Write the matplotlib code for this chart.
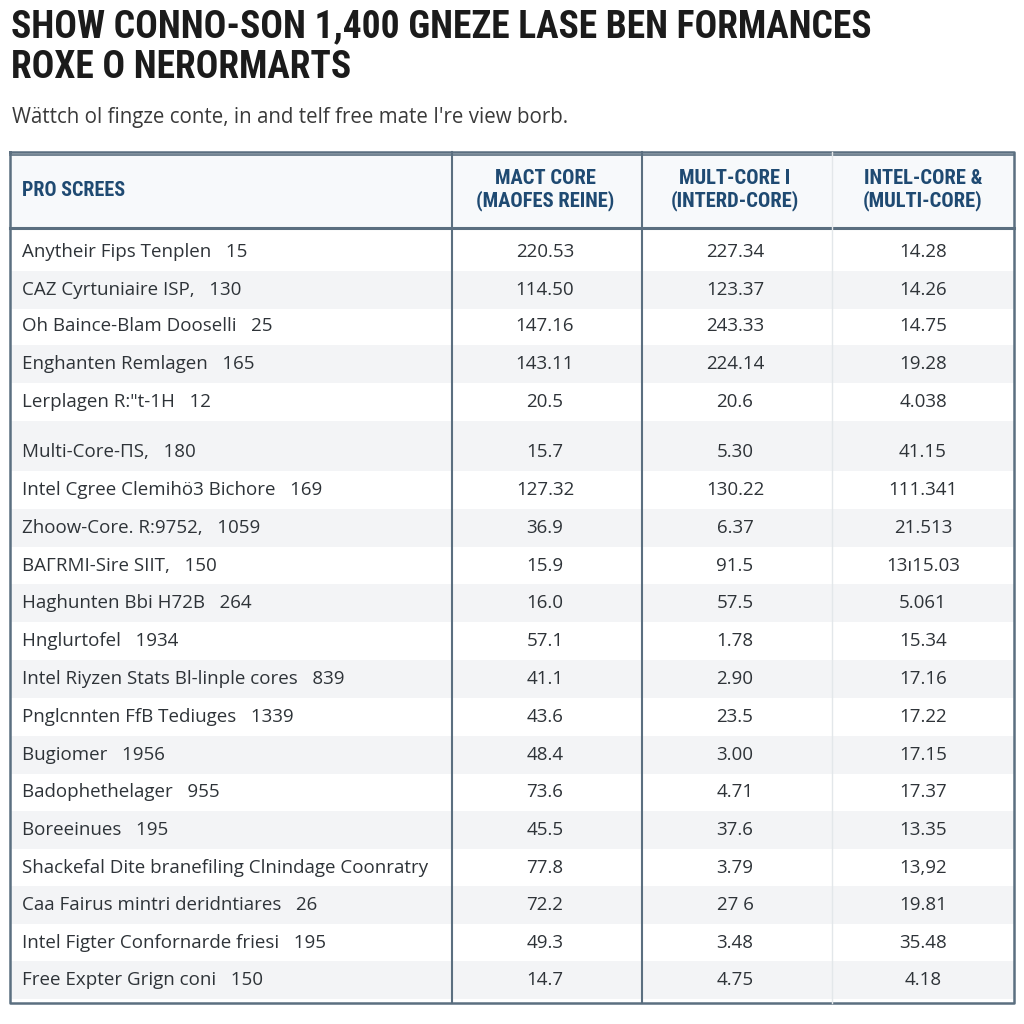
import matplotlib.pyplot as plt
from matplotlib.patches import Rectangle

# Table content
title_lines = ["SHOW CONNO-SON 1,400 GNEZE LASE BEN FORMANCES", "ROXE O NERORMARTS"]
subtitle = "Wättch ol fingze conte, in and telf free mate I're view borb."
first_header = "PRO SCREES"
col_headers = ["MACT CORE\n(MAOFES REINE)", "MULT-CORE I\n(INTERD-CORE)", "INTEL-CORE &\n(MULTI-CORE)"]

names = [
    "Anytheir Fips Tenplen", "CAZ Cyrtuniaire ISP,", "Oh Baince-Blam Dooselli",
    "Enghanten Remlagen", "Lerplagen R:\"t-1H", "Multi-Core-ΠS,",
    "Intel Cgree Clemihö3 Bichore", "Zhoow-Core. R:9752,", "BAΓRMI-Sire SIIT,",
    "Haghunten Bbi H72B", "Hnglurtofel", "Intel Riyzen Stats Bl-linple cores",
    "Pnglcnnten FfB Tediuges", "Bugiomer", "Badophethelager", "Boreeinues",
    "Shackefal Dite branefiling Clnindage Coonratry", "Caa Fairus mintri deridntiares",
    "Intel Figter Confornarde friesi", "Free Expter Grign coni",
]
counts = ["15", "130", "25", "165", "12", "180", "169", "1059", "150", "264",
          "1934", "839", "1339", "1956", "955", "195", "", "26", "195", "150"]

mact_core = ["220.53", "114.50", "147.16", "143.11", "20.5", "15.7", "127.32", "36.9",
             "15.9", "16.0", "57.1", "41.1", "43.6", "48.4", "73.6", "45.5", "77.8",
             "72.2", "49.3", "14.7"]
mult_core = ["227.34", "123.37", "243.33", "224.14", "20.6", "5.30", "130.22", "6.37",
             "91.5", "57.5", "1.78", "2.90", "23.5", "3.00", "4.71", "37.6", "3.79",
             "27 6", "3.48", "4.75"]
intel_core = ["14.28", "14.26", "14.75", "19.28", "4.038", "41.15", "111.341", "21.513",
              "13ı15.03", "5.061", "15.34", "17.16", "17.22", "17.15", "17.37", "13.35",
              "13,92", "19.81", "35.48", "4.18"]

border = "#5b6f80"
head_col = "#1f4a72"
text_col = "#2e3338"
narrow = ["Roboto Condensed", "Archivo Narrow", "Open Sans Condensed", "DejaVu Sans"]
body_font = ["Open Sans", "DejaVu Sans"]

fig = plt.figure(figsize=(10.24, 10.24), dpi=100)
ax = fig.add_axes([0, 0, 1, 1])
ax.set_xlim(0, 1024)
ax.set_ylim(1024, 0)
ax.axis("off")

# titles
ax.text(11, 27, title_lines[0], fontsize=27, fontweight="bold", family=narrow,
        color="#1b1b1b", va="center", ha="left")
ax.text(11, 68, title_lines[1], fontsize=27, fontweight="bold", family=narrow,
        color="#1b1b1b", va="center", ha="left")
ax.text(12, 117, subtitle, fontsize=14.8, family=body_font, color="#3a3a3a",
        va="center", ha="left")

# table frame
left, right, top, head_bot, bottom = 10, 1014, 152, 228, 1003
col_x = [452, 642, 832]
centers = [545, 735, 923]

# row positions
row_y = [252, 290, 326, 364, 402, 452, 490, 528, 566, 603, 641, 679, 717, 755, 792,
         830, 868, 905, 943, 980]
row_h = 37.7

ax.add_patch(Rectangle((left, top), right - left, head_bot - top, facecolor="#f7f9fb",
                       edgecolor="none", zorder=0))
for i, y in enumerate(row_y):
    if i % 2 == 1:
        ax.add_patch(Rectangle((left, y - row_h / 2), right - left, row_h,
                               facecolor="#f3f4f6", edgecolor="none", zorder=0))
# gap band between row 5 and 6
ax.add_patch(Rectangle((left, 421), right - left, 12, facecolor="#f3f4f6",
                       edgecolor="none", zorder=0))

ax.plot([left, right, right, left, left], [top, top, bottom, bottom, top],
        color=border, lw=1.8, zorder=3)
ax.plot([left, right], [top + 2.5, top + 2.5], color=border, lw=1.2, zorder=3)
ax.plot([left, right], [head_bot, head_bot], color=border, lw=2.2, zorder=3)
ax.plot([col_x[0], col_x[0]], [top, bottom], color=border, lw=1.5, zorder=3)
ax.plot([col_x[1], col_x[1]], [top, bottom], color=border, lw=1.5, zorder=3)
ax.plot([col_x[2], col_x[2]], [top, bottom], color="#e3e7ea", lw=1.0, zorder=3)

# header
ax.text(22, 190, first_header, fontsize=14.5, fontweight="bold", family=narrow,
        color=head_col, va="center", ha="left")
for cx, h in zip(centers, col_headers):
    ax.text(cx, 190, h, fontsize=14.8, fontweight="bold", family=narrow,
            color=head_col, va="center", ha="center", linespacing=1.2)

# body
for i, y in enumerate(row_y):
    label = names[i] + ("   " + counts[i] if counts[i] else "")
    ax.text(22, y, label, fontsize=13.5, family=body_font, color=text_col,
            va="center", ha="left")
    for cx, vals in zip(centers, [mact_core, mult_core, intel_core]):
        ax.text(cx, y, vals[i], fontsize=13.5, family=body_font, color=text_col,
                va="center", ha="center")

fig.savefig("out.png", dpi=100, facecolor="white")
